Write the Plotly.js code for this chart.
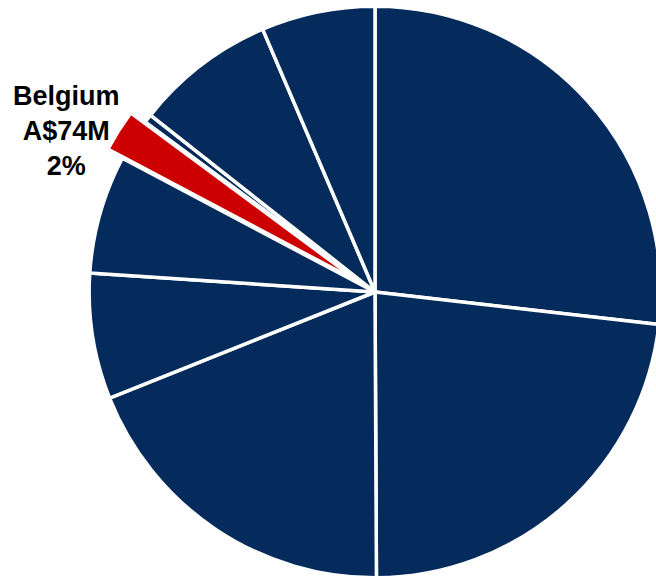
<!DOCTYPE html>
<html>
<head>
<meta charset="utf-8">
<script src="https://cdn.plot.ly/plotly-3.0.1.min.js"></script>
<style>
  html, body { margin: 0; padding: 0; overflow: hidden; background: #ffffff; width: 656px; height: 579px; }
  #chart { position: absolute; left: 0px; top: -11px; width: 750px; height: 606px; }
</style>
</head>
<body>
<div id="chart"></div>
<script>
// Export values by country, A$ millions
const countries = ["Country A", "Country B", "Country C", "Country D", "Country E", "Belgium", "Country G", "Country H", "Country I"];
const valuesAUDm = [830, 715, 589, 220, 207, 74, 15, 246, 199];
const highlight = "Belgium";

const navy = "#052B5C";
const red = "#CC0000";

const colors = countries.map(c => c === highlight ? red : navy);
const pulls = countries.map(c => c === highlight ? 0.06 : 0);

const total = valuesAUDm.reduce((a, b) => a + b, 0);
const hIdx = countries.indexOf(highlight);
const labelText = countries[hIdx] + "<br>A$" + valuesAUDm[hIdx] + "M<br>" +
  Math.round(100 * valuesAUDm[hIdx] / total) + "%";

const trace = {
  type: "pie",
  labels: countries,
  values: valuesAUDm,
  sort: false,
  direction: "clockwise",
  rotation: 0,
  pull: pulls,
  marker: { colors: colors, line: { color: "#ffffff", width: 3.5 } },
  textinfo: "none",
  hoverinfo: "label+value+percent",
  showlegend: false,
  domain: { x: [0, 1], y: [0, 1] }
};

const layout = {
  width: 750,
  height: 606,
  margin: { l: 0, r: 0, t: 0, b: 0, pad: 0 },
  paper_bgcolor: "#ffffff",
  plot_bgcolor: "#ffffff",
  showlegend: false,
  annotations: [{
    text: labelText,
    xref: "paper", yref: "paper",
    x: 0.0889, y: 0.7657,
    xanchor: "center", yanchor: "middle",
    align: "center",
    showarrow: false,
    font: { family: "Liberation Sans, Arial, sans-serif", size: 27, color: "#000000", weight: "bold" }
  }]
};

Plotly.newPlot("chart", [trace], layout, { displayModeBar: false, staticPlot: true });
</script>
</body>
</html>
